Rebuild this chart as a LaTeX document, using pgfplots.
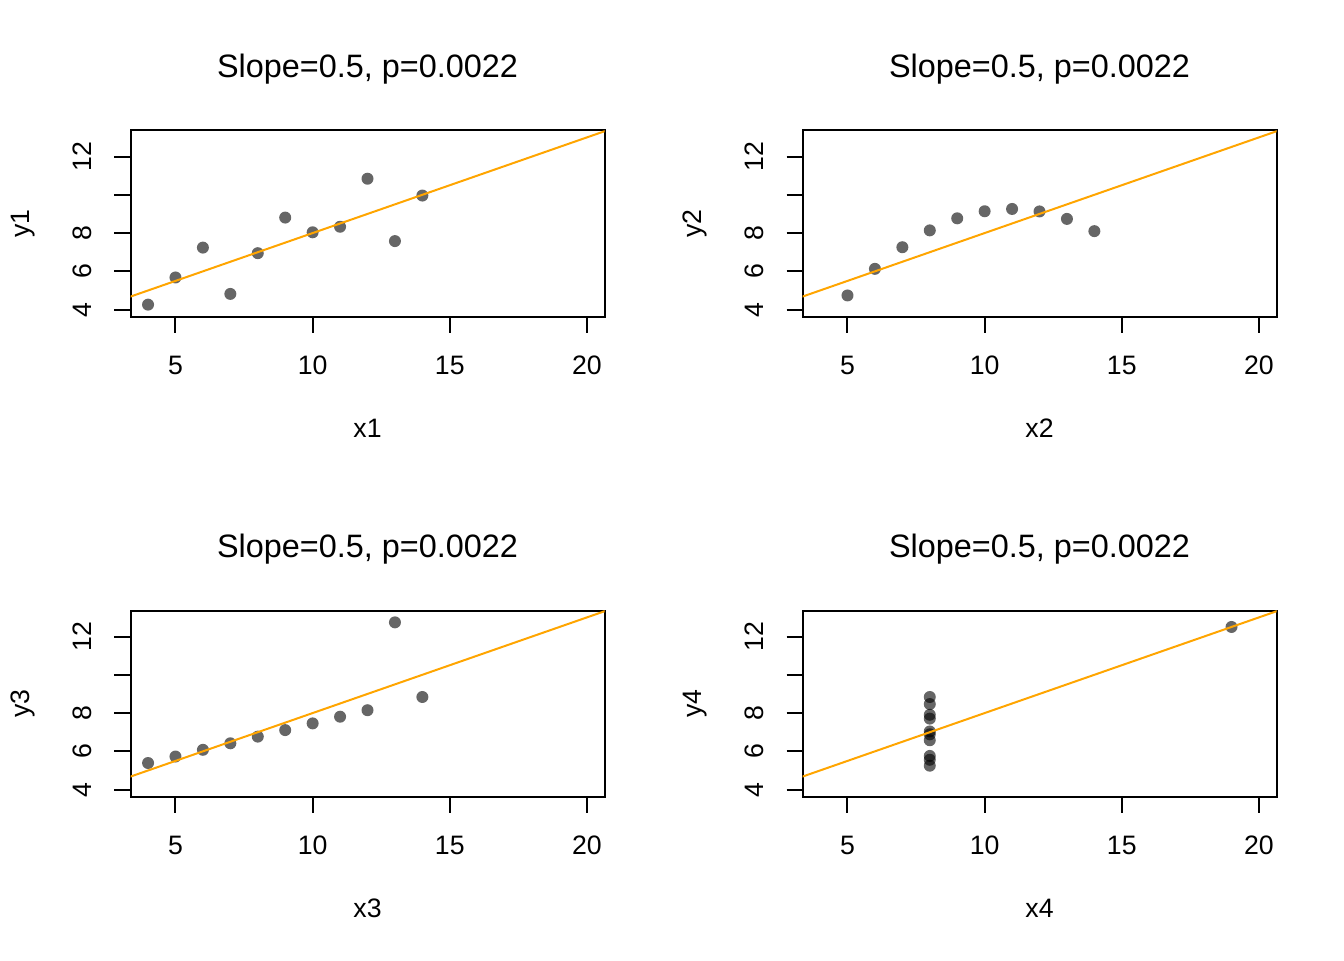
\documentclass[border=0pt]{standalone}
\usepackage{pgfplots}
\pgfplotsset{compat=1.18}
\usepackage{fontspec}
\setmainfont{Liberation Sans}
\definecolor{rorange}{HTML}{FFA500}

\pgfplotsset{anscombe/.style={
  scale only axis, width=237pt, height=93pt,
  xmin=3.36, xmax=20.64, ymin=3.64, ymax=13.36,
  xtick={5,10,15,20}, ytick={4,6,8,10,12}, yticklabels={4,6,8,,12},
  axis line style={line width=1pt},
  every tick/.style={line width=1pt, black},
  tick align=outside, major tick length=8pt, tick pos=left,
  clip marker paths=true,
  /pgf/number format/assume math mode=true,
  tick label style={font=\fontsize{13.33}{16}\selectfont},
  xticklabel style={anchor=base, inner sep=0pt},
  xticklabel shift=20.8pt,
  yticklabel style={rotate=90, anchor=base, inner sep=0pt},
  yticklabel shift=11.5pt,
  label style={font=\fontsize{13.33}{16}\selectfont},
  xlabel style={at={(axis description cs:0.5,-0.6516)}, anchor=base, inner sep=0pt},
  ylabel style={at={(axis description cs:-0.2131,0.5)}, anchor=base, inner sep=0pt},
  title style={at={(axis description cs:0.5,1.2215)}, anchor=base, inner sep=0pt, font=\fontsize{16.2}{19}\selectfont},
  title={Slope=0.5, p=0.0022},
}}
\pgfplotsset{pts/.style={only marks, mark=*, mark size=3pt, mark options={fill=black, fill opacity=0.6, draw opacity=0, line width=0pt}}}
\pgfplotsset{fitline/.style={rorange, line width=1pt}}

\begin{document}
\begin{tikzpicture}
\path[use as bounding box] (0,0) rectangle (672pt,480pt);

\begin{axis}[anscombe, at={(65.25pt,321.75pt)}, anchor=south west, xlabel={x1}, ylabel={y1}]
\addplot[pts] coordinates {(10,8.04) (8,6.95) (13,7.58) (9,8.81) (11,8.33) (14,9.96) (6,7.24) (4,4.26) (12,10.84) (7,4.82) (5,5.68)};
\addplot[fitline] coordinates {(0,3) (24,15)};
\end{axis}

\begin{axis}[anscombe, at={(401.25pt,321.75pt)}, anchor=south west, xlabel={x2}, ylabel={y2}]
\addplot[pts] coordinates {(10,9.14) (8,8.14) (13,8.74) (9,8.77) (11,9.26) (14,8.10) (6,6.13) (4,3.10) (12,9.13) (7,7.26) (5,4.74)};
\addplot[fitline] coordinates {(0,3) (24,15)};
\end{axis}

\begin{axis}[anscombe, at={(65.25pt,81.75pt)}, anchor=south west, xlabel={x3}, ylabel={y3}]
\addplot[pts] coordinates {(10,7.46) (8,6.77) (13,12.74) (9,7.11) (11,7.81) (14,8.84) (6,6.08) (4,5.39) (12,8.15) (7,6.42) (5,5.73)};
\addplot[fitline] coordinates {(0,3) (24,15)};
\end{axis}

\begin{axis}[anscombe, at={(401.25pt,81.75pt)}, anchor=south west, xlabel={x4}, ylabel={y4}]
\addplot[pts] coordinates {(8,6.58) (8,5.76) (8,7.71) (8,8.84) (8,8.47) (8,7.04) (8,5.25) (19,12.50) (8,5.56) (8,7.91) (8,6.89)};
\addplot[fitline] coordinates {(0,3) (24,15)};
\end{axis}
\end{tikzpicture}
\end{document}
